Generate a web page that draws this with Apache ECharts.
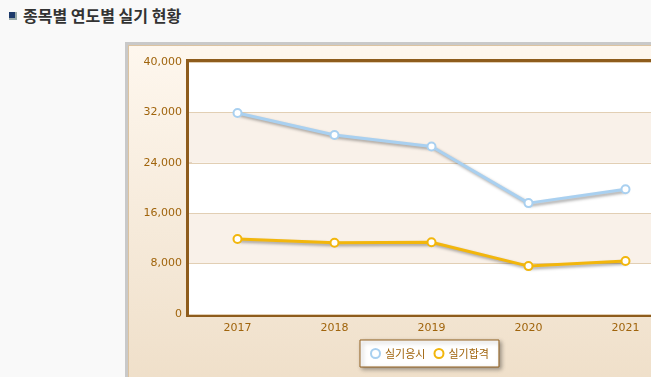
<!DOCTYPE html>
<html>
<head>
<meta charset="utf-8">
<script src="https://cdn.jsdelivr.net/npm/echarts@6/dist/echarts.min.js"></script>
<style>
	html, body { margin: 0; padding: 0; width: 651px; height: 377px; overflow: hidden; background: #f9f9f9; }
	#title { position: absolute; left: 9px; top: 3px; font-family: "Noto Sans CJK KR", sans-serif; font-weight: bold; font-size: 16px; color: #333; }
	#title .ico { display: inline-block; width: 6px; height: 6px; background: #1d3a6b; border-right: 2px solid #9aa; border-bottom: 2px solid #9aa; margin-right: 6px; vertical-align: 2px; }
	#frame { position: absolute; left: 125px; top: 42px; width: 600px; height: 400px; border-left: 3px solid #c9c9c9; border-top: 3px solid #c9c9c9; }
	#chart { position: absolute; left: 0; top: 0; width: 560px; height: 340px; border-left: 1px solid #dcc3a0; border-top: 1px solid #dcc3a0; }
</style>
</head>
<body>
<div id="title"><span class="ico"></span>종목별 연도별 실기 현황</div>
<div id="frame"><div id="chart"></div></div>
<script>
	// chart data
	var years = ['2017', '2018', '2019', '2020', '2021'];
	var examTaken = [31900, 28400, 26600, 17600, 19800];
	var examPassed = [11900, 11300, 11400, 7600, 8400];
	var seriesNames = ['실기응시', '실기합격'];

	var labelColor = '#a0640c';
	var fontFamily = '"DejaVu Sans", sans-serif';

	var chart = echarts.init(document.getElementById('chart'));

	//build a line series with the shadowed look of the original
	function lineSeries(name, data, color){
		return {
			name: name,
			type: 'line',
			data: data,
			symbol: 'emptyCircle',
			symbolSize: 8,
			lineStyle: {
				color: color,
				width: 3,
				shadowColor: 'rgba(0,0,0,0.35)',
				shadowBlur: 3,
				shadowOffsetX: 2,
				shadowOffsetY: 2
			},
			itemStyle: { color: color, borderColor: color, borderWidth: 1.2 }
		};
	}

	var option = {
		animation: false,
		backgroundColor: new echarts.graphic.LinearGradient(0, 0, 0, 1, [
			{ offset: 0, color: '#fef7ee' },
			{ offset: 1, color: '#efdfc9' }
		]),
		grid: {
			left: 60,
			top: 16,
			width: 485,
			height: 252,
			show: true,
			backgroundColor: '#ffffff',
			borderColor: '#8e5c1c',
			// the split area covers the inner half of the border
			borderWidth: 6
		},
		legend: {
			left: 231,
			top: 294,
			data: seriesNames,
			icon: 'emptyCircle',
			itemWidth: 9,
			itemHeight: 9,
			itemGap: 8,
			backgroundColor: '#ffffff',
			borderColor: '#93611f',
			borderWidth: 1,
			padding: [8, 10],
			shadowColor: 'rgba(0,0,0,0.35)',
			shadowBlur: 4,
			shadowOffsetX: 2,
			shadowOffsetY: 2,
			textStyle: { color: labelColor, fontSize: 11, fontFamily: '"Noto Sans CJK KR", sans-serif' }
		},
		xAxis: {
			type: 'category',
			data: years,
			boundaryGap: true,
			axisLine: { show: false },
			axisTick: { show: false },
			axisLabel: { color: labelColor, fontSize: 11, fontFamily: fontFamily, margin: 9 }
		},
		yAxis: {
			type: 'value',
			min: 0,
			max: 40000,
			interval: 8000,
			axisLine: { show: false },
			axisTick: { show: false },
			axisLabel: {
				color: labelColor,
				fontSize: 11,
				fontFamily: fontFamily,
				margin: 7,
				formatter: function(v){ return v.toLocaleString('en-US'); }
			},
			splitLine: { lineStyle: { color: '#e2cfb4', width: 1 } },
			splitArea: { show: true, areaStyle: { color: ['#ffffff', '#f9f1e9'] } }
		},
		series: [
			lineSeries(seriesNames[0], examTaken, '#a9d0f0'),
			lineSeries(seriesNames[1], examPassed, '#f2b60c')
		]
	};

	chart.setOption(option);
</script>
</body>
</html>
